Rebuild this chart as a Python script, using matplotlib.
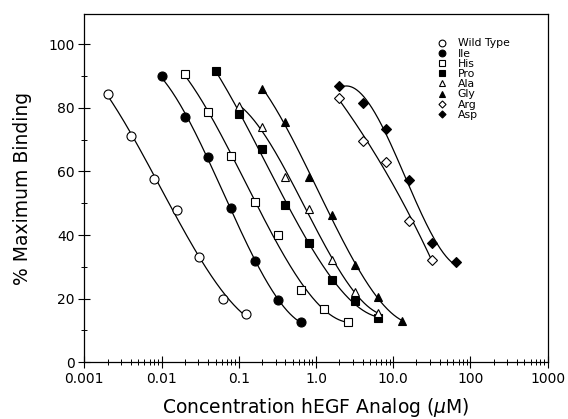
import numpy as np
import matplotlib
matplotlib.use("Agg")
import matplotlib.pyplot as plt
from matplotlib.ticker import LogLocator, FixedLocator, MultipleLocator

# concentrations (uM) and % maximum binding
wt_conc = [0.002, 0.004, 0.008, 0.016, 0.031, 0.0625, 0.125]
wt_val = [84.5, 71, 57.5, 48, 33, 20, 15.3]
ile_conc = [0.01, 0.02, 0.04, 0.08, 0.16, 0.32, 0.64]
ile_val = [90, 77, 64.6, 48.6, 31.8, 19.6, 12.7]
his_conc = [0.02, 0.04, 0.08, 0.16, 0.32, 0.64, 1.28, 2.56]
his_val = [90.5, 78.6, 65, 50.3, 40, 22.7, 16.7, 12.8]
pro_conc = [0.05, 0.1, 0.2, 0.4, 0.8, 1.6, 3.2, 6.4]
pro_val = [91.7, 78, 67, 49.4, 37.6, 26, 19.2, 13.8]
ala_conc = [0.1, 0.2, 0.4, 0.8, 1.6, 3.2, 6.4]
ala_val = [80.6, 74, 58.4, 48.2, 32.2, 22, 15.4]
gly_conc = [0.2, 0.4, 0.8, 1.6, 3.2, 6.4, 12.8]
gly_val = [86, 75.7, 58.4, 46.4, 30.5, 20.4, 13.1]
arg_conc = [2, 4, 8, 16, 32]
arg_val = [83, 69.7, 63, 44.5, 32.2]
asp_conc = [2, 4, 8, 16, 32, 64]
asp_val = [87, 81.6, 73.4, 57.3, 37.4, 31.4]

series = [
    ("Wild Type", wt_conc, wt_val, "o", "white", 6.5),
    ("Ile", ile_conc, ile_val, "o", "black", 6.5),
    ("His", his_conc, his_val, "s", "white", 6.0),
    ("Pro", pro_conc, pro_val, "s", "black", 6.0),
    ("Ala", ala_conc, ala_val, "^", "white", 6.0),
    ("Gly", gly_conc, gly_val, "^", "black", 6.0),
    ("Arg", arg_conc, arg_val, "D", "white", 4.8),
    ("Asp", asp_conc, asp_val, "D", "black", 4.8),
]

fig = plt.figure(figsize=(5.68, 4.19), dpi=100)
ax = fig.add_axes([0.1484, 0.1353, 0.8159, 0.8313])

for name, conc, val, mk, fc, ms in series:
    lx = np.log10(conc)
    # smooth fitted curve through the points (cubic in log conc)
    p = np.polyfit(lx, val, 3)
    xs = np.linspace(lx[0], lx[-1], 200)
    ax.plot(10 ** xs, np.polyval(p, xs), color="black", lw=0.9, zorder=1)
    ax.plot(conc, val, linestyle="none", marker=mk, markerfacecolor=fc,
            markeredgecolor="black", markeredgewidth=0.8, markersize=ms,
            label=name, zorder=2)

ax.set_xscale("log")
ax.set_xlim(0.001, 1000)
ax.set_ylim(0, 109.5)

ax.xaxis.set_major_locator(FixedLocator([0.001, 0.01, 0.1, 1, 10, 100, 1000]))
ax.set_xticklabels(["0.001", "0.01", "0.1", "1.0", "10.0", "100", "1000"])
ax.xaxis.set_minor_locator(LogLocator(base=10, subs=np.arange(2, 10)))
ax.xaxis.set_minor_formatter(plt.NullFormatter())
ax.yaxis.set_major_locator(FixedLocator([0, 20, 40, 60, 80, 100]))
ax.yaxis.set_minor_locator(MultipleLocator(10))

ax.tick_params(axis="both", which="major", direction="inout", length=8,
               width=0.8, labelsize=10, pad=3)
ax.tick_params(axis="both", which="minor", direction="inout", length=4, width=0.7)

for s in ax.spines.values():
    s.set_linewidth(0.9)

ax.set_xlabel("Concentration hEGF Analog ($\\mu$M)", fontsize=13.5)
ax.set_ylabel("% Maximum Binding", fontsize=13.5)
ax.xaxis.set_label_coords(0.5, -0.097)
ax.yaxis.set_label_coords(-0.113, 0.5)

ax.legend(loc="upper left", bbox_to_anchor=(0.7516, 0.9426), frameon=False,
          fontsize=7.8, markerscale=0.75, handletextpad=0.9, labelspacing=0.02,
          handlelength=1.0, borderaxespad=0.0)

fig.savefig("out.png", dpi=100)
